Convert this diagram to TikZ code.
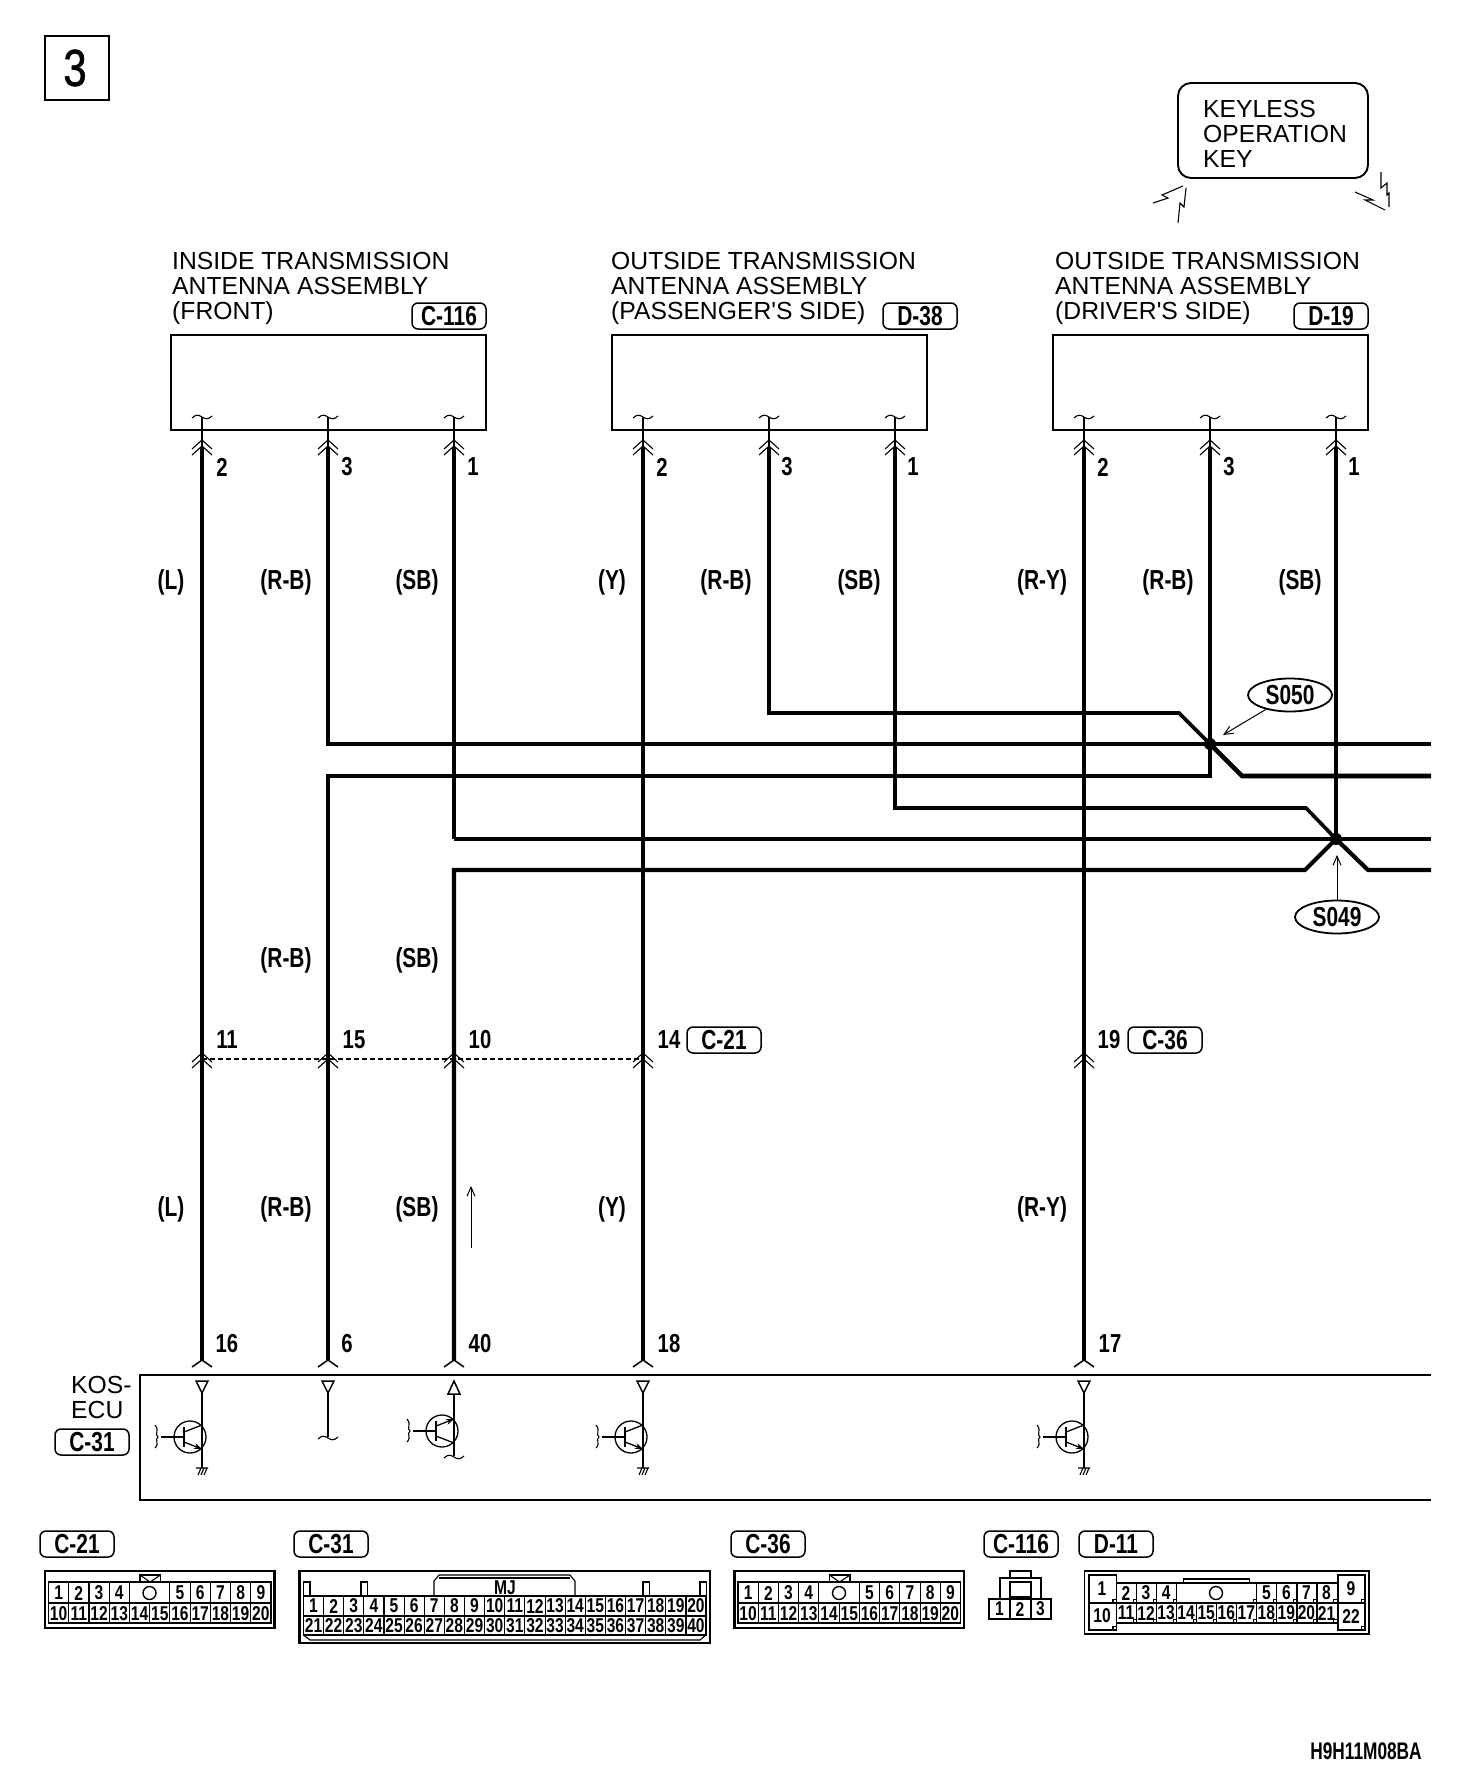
\documentclass[tikz,border=0pt]{standalone}
\usepackage{fontspec}
\setmainfont{Liberation Sans}
\newfontfamily\labelfont{Liberation Sans}
\newfontfamily\narrowfont[FakeStretch=0.76]{Liberation Sans}
\newfontfamily\codefont[FakeStretch=0.72]{Liberation Sans}
\newfontfamily\gridfont[FakeStretch=0.78]{Liberation Sans}
\newfontfamily\sheetfont[FakeStretch=0.8,FakeBold=1.2]{Liberation Sans}
\usetikzlibrary{arrows.meta,shapes.geometric}
\tikzset{
	x=1pt, y=-1pt,
	hairline/.style={line width=1.1pt},
	boxline/.style={line width=1.9pt},
	wirethick/.style={line width=4.6pt},
	wirethin/.style={line width=3.6pt},
	dashline/.style={line width=1.3pt, dash pattern=on 5pt off 3pt},
	antbox/.style={draw, line width=1.9pt, minimum width=315pt, minimum height=95pt, inner sep=0pt},
	tagbox/.style={draw, line width=1.5pt, rounded corners=6pt, minimum width=74pt, minimum height=26pt, inner sep=0pt, font=\narrowfont\bfseries\fontsize{27.5}{27.5}\selectfont},
	ovalbox/.style={draw, ellipse, line width=1.8pt, minimum width=84pt, minimum height=33pt, inner sep=0pt, font=\narrowfont\bfseries\fontsize{27.5}{27.5}\selectfont},
	namelabel/.style={anchor=north west, align=left, inner sep=0pt, font=\labelfont\fontsize{24.7}{25}\selectfont},
	wirelabel/.style={inner sep=0pt, font=\narrowfont\bfseries\fontsize{27.5}{27.5}\selectfont},
	pinlabel/.style={inner sep=0pt, font=\gridfont\bfseries\fontsize{26}{26}\selectfont},
	celllabel/.style={inner sep=0pt, font=\gridfont\bfseries\fontsize{20}{20}\selectfont},
	openarrow/.style={-{Straight Barb[length=9pt,width=8pt]}, line width=1pt},
	tiparrow/.style={-{Stealth[length=8pt,width=6pt]}},
}
\def\wavetick(#1,#2){\draw[hairline, shift={(#1,#2)}] (-10,1) .. controls (-6,-3) and (-3,-2) .. (0,0) .. controls (3,2) and (6,3) .. (10,-1);}
\def\chevrons(#1,#2){\draw[hairline, shift={(#1,#2)}] (-10,9) -- (0,0) -- (10,9) (-10,15) -- (0,6) -- (10,15);}
\def\endfork(#1,#2){\draw[line width=1.5pt, shift={(#1,#2)}] (-10,7) -- (0,0) -- (10,7);}
\def\pinflag(#1,#2){\draw[line width=1.5pt, shift={(#1,#2)}] (-6,0) -- (6,0) -- (0,12) -- cycle;}
\def\groundmark(#1,#2){\draw[hairline, shift={(#1,#2)}] (-6,0) -- (6,0) (-4,7) -- (-1,0) (-1,7) -- (2,0) (2,7) -- (5,0);}
\def\transq(#1,#2)#3#4{\begin{scope}[shift={(#1,#2)}]
	\draw[line width=1.3pt] (0,0) circle [radius=16];
	\draw[line width=1.2pt] (-6,-10) -- (-6,10);
	\draw[line width=2pt] (-29,0) -- (-6,0);
	\draw[line width=1.3pt, #3] (-6,-5) -- (12,-12);
	\draw[line width=1.3pt, #4] (-6,5) -- (12,12);
	\draw[hairline] (-35,-12) .. controls (-30,-6) and (-36,-3) .. (-32,0) .. controls (-36,3) and (-30,6) .. (-35,11);
\end{scope}}

\begin{document}
\begin{tikzpicture}
			\useasboundingbox (0,0) rectangle (1456,1774);
			%%%%% TOP %%%%%
			
			\draw[line width=2.5pt] (45,36) rectangle (109,100);
			\node[inner sep=0pt, font=\sheetfont\fontsize{52}{52}\selectfont] (sheetno) at (75,68) {3};
			
			\draw[boxline, rounded corners=13pt] (1178,83) rectangle (1368,178);
			\node[namelabel] (keyname) at (1203,100) {KEYLESS\\OPERATION\\KEY};
			\draw[hairline] (1153,203) -- (1168,198) -- (1162,195) -- (1183,186);
			\draw[hairline] (1186,188) -- (1184,207) -- (1180,203) -- (1178,223);
			\draw[hairline] (1355,192) -- (1373,200) -- (1365,200) -- (1385,210);
			\draw[hairline] (1381,172) -- (1381,188) -- (1387,183) -- (1387,195) -- (1389,193) -- (1389,207);
			
			\node[namelabel] (frontname) at (172,252) {INSIDE TRANSMISSION\\ANTENNA ASSEMBLY\\(FRONT)};
			\node[namelabel] (passname) at (611,252) {OUTSIDE TRANSMISSION\\ANTENNA ASSEMBLY\\(PASSENGER'S SIDE)};
			\node[namelabel] (drivname) at (1055,252) {OUTSIDE TRANSMISSION\\ANTENNA ASSEMBLY\\(DRIVER'S SIDE)};
			
			\node[tagbox] (tagfront) at (449,316) {C-116};
			\node[tagbox] (tagpass) at (920,316) {D-38};
			\node[tagbox] (tagdriv) at (1331,316) {D-19};
			
			\node[antbox] (boxfront) at (328.5,382.5) {};
			\node[antbox] (boxpass) at (769.5,382.5) {};
			\node[antbox] (boxdriv) at (1210.5,382.5) {};
			
			%%%%% WIRES %%%%%
			
			\coordinate (f2) at (202,447);
			\coordinate (f3) at (328,447);
			\coordinate (f1) at (454,447);
			\coordinate (p2) at (643,447);
			\coordinate (p3) at (769,447);
			\coordinate (p1) at (895,447);
			\coordinate (d2) at (1084,447);
			\coordinate (d3) at (1210,447);
			\coordinate (d1) at (1336,447);
			\coordinate (s050) at (1210,744);
			\coordinate (s049) at (1336,839);
			\coordinate (e16) at (202,1360);
			\coordinate (e6) at (328,1360);
			\coordinate (e40) at (454,1360);
			\coordinate (e18) at (643,1360);
			\coordinate (e17) at (1084,1360);
			\coordinate (m11) at (202,1059);
			\coordinate (m15) at (328,1059);
			\coordinate (m10) at (454,1059);
			\coordinate (m14) at (643,1059);
			\coordinate (m19) at (1084,1059);
			
			\draw[wirethick] (f2) -- (e16);
			\draw[wirethin] (p2) -- (e18);
			\draw[wirethick] (d2) -- (e17);
			
			\draw[wirethick] (f3) -- (328,744) -- (s050) -- (1431,744);
			\draw[wirethick] (e6) -- (328,776) -- (1210,776) -- (s050) -- (d3);
			\draw[wirethin] (p3) -- (769,713) -- (1179,713) -- (s050);
			\draw[wirethick] (s050) -- (1242,776) -- (1431,776);
			
			\draw[wirethick] (f1) -- (454,839);
			\draw[wirethin] (454,839) -- (s049) -- (1431,839);
			\draw[wirethick] (d1) -- (s049);
			\draw[wirethin] (p1) -- (895,808) -- (1306,808) -- (s049);
			\draw[line width=4.2pt] (e40) -- (454,870) -- (1305,870) -- (s049) -- (1368,870) -- (1431,870);
			
			\fill (s050) circle [radius=6];
			\fill (s049) circle [radius=6];
			
			\node[ovalbox] (ovs050) at (1290,695) {S050};
			\node[ovalbox] (ovs049) at (1337,917) {S049};
			\draw[openarrow] (ovs050) -- (1223,735);
			\draw[openarrow] (ovs049) -- (1337,855);
			
			\draw[dashline] (m11) -- (m15) -- (m10) -- (m14);
			\foreach \px in {202,328,454,643,1084}
				\chevrons(\px,1053);
			
			\foreach \px in {202,328,454,643,769,895,1084,1210,1336} {
				\chevrons(\px,440);
				\draw[hairline] (\px,417) -- (\px,447);
				\wavetick(\px,417);
			}
			\foreach \px in {202,328,454,643,1084}
				\endfork(\px,1360);
			
			%%%%% LABELS %%%%%
			
			\foreach \px/\pintxt in {222/2,347/3,473/1,662/2,787/3,913/1,1103/2,1229/3,1354/1}
				\node[pinlabel] (pint\px) at (\px,467) {\pintxt};
			\foreach \px/\pintxt in {227/11,354/15,480/10,669/14,1109/19}
				\node[pinlabel] (pinm\px) at (\px,1040) {\pintxt};
			\foreach \px/\pintxt in {227/16,347/6,480/40,669/18,1110/17}
				\node[pinlabel] (pinb\px) at (\px,1344) {\pintxt};
			
			\foreach \px/\wtxt in {171/(L),286/(R-B),417/(SB),612/(Y),726/(R-B),859/(SB),1042/(R-Y),1168/(R-B),1300/(SB)}
				\node[wirelabel] (wtop\px) at (\px,582) {\wtxt};
			\foreach \px/\wtxt in {286/(R-B),417/(SB)}
				\node[wirelabel] (wmid\px) at (\px,960) {\wtxt};
			\foreach \px/\wtxt in {171/(L),286/(R-B),417/(SB),612/(Y),1042/(R-Y)}
				\node[wirelabel] (wlow\px) at (\px,1209) {\wtxt};
			
			\node[tagbox] (tagm21) at (724,1040) {C-21};
			\node[tagbox] (tagm36) at (1165,1040) {C-36};
			
			\coordinate (flowa) at (471,1248);
			\coordinate (flowb) at (471,1186);
			\draw[openarrow] (flowa) -- (flowb);
			
			%%%%% ECU %%%%%
			
			\draw[boxline] (1431,1375) -- (140,1375) -- (140,1500) -- (1431,1500);
			\node[namelabel] (ecuname) at (71,1376) {KOS-\\ECU};
			\node[tagbox] (tagecu) at (92,1442) {C-31};
			
			\foreach \px in {202,328,643,1084}
				\pinflag(\px,1381);
			\draw[line width=1.5pt] (448,1394) -- (460,1394) -- (454,1381) -- cycle;
			
			\draw[hairline] (202,1393) -- (202,1468);
			\draw[hairline] (643,1393) -- (643,1468);
			\draw[hairline] (1084,1393) -- (1084,1468);
			\draw[hairline] (328,1393) -- (328,1437);
			\draw[hairline] (454,1394) -- (454,1456);
			\wavetick(328,1438);
			\wavetick(454,1457);
			\groundmark(202,1468);
			\groundmark(643,1468);
			\groundmark(1084,1468);
			
			\transq(190,1437){}{tiparrow}
			\transq(631,1437){}{tiparrow}
			\transq(1072,1437){}{tiparrow}
			\transq(442,1431){tiparrow}{}
			
			%%%%% CONNECTORS %%%%%
			
			\node[tagbox] (tagc21) at (77,1544) {C-21};
			\node[tagbox] (tagc31) at (331,1544) {C-31};
			\node[tagbox] (tagc36) at (768,1544) {C-36};
			\node[tagbox] (tagc116) at (1021,1544) {C-116};
			\node[tagbox] (tagd11) at (1116,1544) {D-11};
			
			% 20 way, c-21 and c-36
			\foreach \cname/\dx in {c21/0,c36/689.5} {
				\begin{scope}[shift={(\dx,0)}]
					\draw[line width=2.5pt] (45,1571) rectangle (274.5,1628);
					\draw[boxline] (48.5,1582) rectangle (271,1623);
					\draw[boxline] (48.5,1603) -- (271,1603);
					\draw[boxline] (140,1582) -- (140,1575) -- (160.5,1575) -- (160.5,1582);
					\draw[hairline] (140,1575) -- (150,1582) -- (160.5,1575);
					\draw[line width=1.4pt] (149.5,1593) circle [radius=6.5];
					\foreach \k in {1,2,3,4,6,7,8,9,10}
						\draw[hairline] ({48.5+20.23*\k},1582) -- ({48.5+20.23*\k},1603);
					\foreach \k in {1,...,10}
						\draw[hairline] ({48.5+20.23*\k},1603) -- ({48.5+20.23*\k},1623);
					\foreach \n/\k in {1/0,2/1,3/2,4/3,5/6,6/7,7/8,8/9,9/10}
						\node[celllabel] (\cname-\n) at ({58.6+20.23*\k},1593) {\n};
					\foreach \n [evaluate=\n as \k using int(\n-10)] in {10,...,20}
						\node[celllabel] (\cname-\n) at ({58.6+20.23*\k},1613.5) {\n};
				\end{scope}
			}
			
			% 40 way, c-31
			\draw[line width=2.5pt] (299.5,1571) rectangle (710,1643);
			\draw[boxline] (303.5,1596) rectangle (706,1635);
			\draw[boxline] (303.5,1616) -- (706,1616);
			\draw[hairline] (303.5,1635) -- (310,1640) -- (700,1640) -- (706,1635);
			\draw[hairline] (434,1596) -- (434,1581) -- (439,1575) -- (570,1575) -- (575,1581) -- (575,1596);
			\draw[hairline] (439,1578) -- (570,1578);
			\foreach \bx in {303.5,361,643,700}
				\draw[hairline] (\bx,1596) -- (\bx,1582) -- (\bx+6.5,1582) -- (\bx+6.5,1596);
			\node[celllabel] (c31mark) at (505,1588) {MJ};
			\foreach \k in {1,...,19}
				\draw[hairline] ({303.5+20.13*\k},1596) -- ({303.5+20.13*\k},1635);
			\foreach \n [evaluate=\n as \k using int(\n-1)] in {1,...,20}
				\node[celllabel] (c31-\n) at ({313.5+20.13*\k},1606) {\n};
			\foreach \n [evaluate=\n as \k using int(\n-21)] in {21,...,40}
				\node[celllabel] (c31-\n) at ({313.5+20.13*\k},1625.5) {\n};
			
			% 3 way, c-116
			\draw[boxline] (1010,1578) -- (1010,1571) -- (1031,1571) -- (1031,1578);
			\draw[boxline] (1000,1599) -- (1000,1578) -- (1041,1578) -- (1041,1599);
			\draw[boxline] (1010,1582) rectangle (1031,1597);
			\draw[boxline] (989,1599) rectangle (1051,1619);
			\draw[hairline] (1010,1599) -- (1010,1619);
			\draw[hairline] (1031,1599) -- (1031,1619);
			\foreach \n/\k in {1/0,2/1,3/2}
				\node[celllabel] (c116-\n) at ({999.5+20.5*\k},1609) {\n};
			
			% 22 way, d-11
			\draw[boxline] (1084.5,1571) rectangle (1369,1634);
			\draw[hairline] (1183.5,1583) -- (1183.5,1579) -- (1249.5,1579) -- (1249.5,1583);
			\draw[boxline] (1089,1575) rectangle (1116.5,1630);
			\draw[boxline] (1338,1575) rectangle (1365,1630);
			\draw[boxline] (1089,1603) -- (1116.5,1603);
			\draw[boxline] (1338,1603) -- (1365,1603);
			\draw[boxline] (1116.5,1583) -- (1338,1583);
			\draw[boxline] (1116.5,1603) -- (1338,1603);
			\draw[boxline] (1116.5,1623) -- (1338,1623);
			\draw[line width=1.4pt] (1216,1593) circle [radius=6.5];
			\foreach \k in {1,2,3,7,8,9,10}
				\draw[hairline] ({1116.5+20.05*\k},1583) -- ({1116.5+20.05*\k},1603);
			\foreach \k in {1,...,10}
				\draw[hairline] ({1116.5+20.05*\k},1603) -- ({1116.5+20.05*\k},1623);
			\foreach \k in {1,2,3,7,8,9,10,11}
				\draw[hairline] ({1116.5+20.05*\k-3.5},1599.5) rectangle ({1116.5+20.05*\k},1603);
			\foreach \k in {1,...,11}
				\draw[hairline] ({1116.5+20.05*\k-3.5},1619.5) rectangle ({1116.5+20.05*\k},1623);
			\draw[hairline] (1113,1599.5) rectangle (1116.5,1603);
			\draw[hairline] (1113,1626.5) rectangle (1116.5,1630);
			\draw[hairline] (1361.5,1599.5) rectangle (1365,1603);
			\draw[hairline] (1361.5,1626.5) rectangle (1365,1630);
			\foreach \n/\k in {2/0,3/1,4/2,5/7,6/8,7/9,8/10}
				\node[celllabel] (d11-\n) at ({1126+20.05*\k},1593) {\n};
			\foreach \n [evaluate=\n as \k using int(\n-11)] in {11,...,21}
				\node[celllabel] (d11-\n) at ({1126+20.05*\k},1613) {\n};
			\node[celllabel] (d11-1) at (1102,1589) {1};
			\node[celllabel] (d11-10) at (1102,1616) {10};
			\node[celllabel] (d11-9) at (1351,1589) {9};
			\node[celllabel] (d11-22) at (1351,1616) {22};
			
			\node[inner sep=0pt, font=\codefont\bfseries\fontsize{24}{24}\selectfont] (figcode) at (1366,1751) {H9H11M08BA};
			
			%%%%% END %%%%%
\end{tikzpicture}
\end{document}
